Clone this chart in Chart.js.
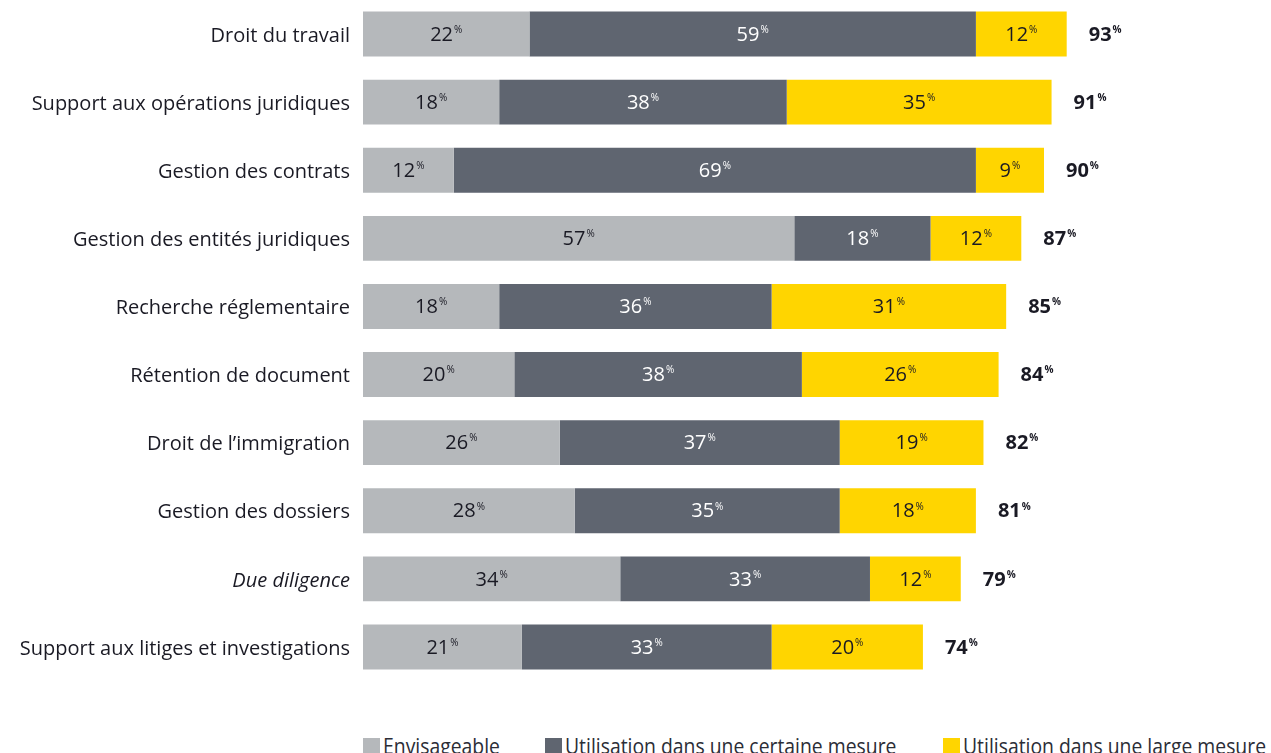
<!DOCTYPE html>
<html>
<head>
<meta charset="utf-8">
<script src="https://cdn.jsdelivr.net/npm/chart.js@4"></script>
<style>
  html, body { margin: 0; padding: 0; background: #fff; overflow: hidden; }
  #wrap { width: 1271px; height: 681px; position: relative; }
  #legend { position: absolute; top: 733px; left: 0; width: 1271px; height: 30px;
            font-family: "Open Sans", "Noto Sans", sans-serif;
            font-size: 22px; color: #2b2d36; }
  #legend .item { position: absolute; top: 0; white-space: nowrap; line-height: 24px; }
  #legend .box { display: inline-block; width: 17px; height: 17px; margin-right: 3px; vertical-align: -1px; }
  #legend .txt { display: inline-block; transform: scaleX(0.88); transform-origin: left center; }
</style>
</head>
<body>
<div id="wrap"><canvas id="usageChart"></canvas></div>
<div id="legend"></div>
<script>
// Data block
const categories = [
    'Droit du travail',
    'Support aux opérations juridiques',
    'Gestion des contrats',
    'Gestion des entités juridiques',
    'Recherche réglementaire',
    'Rétention de document',
    'Droit de l\u2019immigration',
    'Gestion des dossiers',
    'Due diligence',
    'Support aux litiges et investigations'
];
const italicCategories = ['Due diligence'];
const seriesNames = [
    'Envisageable',
    'Utilisation dans une certaine mesure',
    'Utilisation dans une large mesure'
];
const envisageable = [22, 18, 12, 57, 18, 20, 26, 28, 34, 21];
const certaineMesure = [59, 38, 69, 18, 36, 38, 37, 35, 33, 33];
const largeMesure = [12, 35, 9, 12, 31, 26, 19, 18, 12, 20];
const totals = [93, 91, 90, 87, 85, 84, 82, 81, 79, 74];

const FONT = '"Open Sans", "Noto Sans", sans-serif';
const TEXT = '#1a1a24';
const COLORS = ['#b5b8bb', '#5f6570', '#ffd500'];

// Value labels with a small superscript % sign
const valueLabels = {
    id: 'valueLabels',
    afterDatasetsDraw(chart) {
        const ctx = chart.ctx;
        const drawPct = (value, x, y, color, bold, align) => {
            const main = String(value);
            const weight = bold ? 'bold ' : '';
            ctx.font = weight + '20px ' + FONT;
            const w1 = ctx.measureText(main).width;
            ctx.font = weight + '10px ' + FONT;
            const w2 = ctx.measureText('%').width;
            const start = align === 'center' ? x - (w1 + w2 + 1) / 2 : x;
            ctx.fillStyle = color;
            ctx.textBaseline = 'middle';
            ctx.textAlign = 'left';
            ctx.font = weight + '20px ' + FONT;
            ctx.fillText(main, start, y + 1);
            ctx.font = weight + '10px ' + FONT;
            ctx.fillText('%', start + w1 + 1, y - 4);
        };
        ctx.save();
        chart.data.datasets.forEach((ds, i) => {
            const meta = chart.getDatasetMeta(i);
            meta.data.forEach((bar, j) => {
                const cx = (bar.x + bar.base) / 2;
                drawPct(ds.data[j], cx, bar.y, ds.labelColor, false, 'center');
            });
        });
        // totals at the end of each bar
        const last = chart.getDatasetMeta(chart.data.datasets.length - 1);
        last.data.forEach((bar, j) => {
            drawPct(totals[j], bar.x + 22, bar.y, TEXT, true, 'left');
        });
        ctx.restore();
    }
};

// Config block
const usageConfig = {
    type: 'bar',
    data: {
        labels: categories,
        datasets: [{
            label: seriesNames[0],
            data: envisageable,
            backgroundColor: COLORS[0],
            labelColor: TEXT
        }, {
            label: seriesNames[1],
            data: certaineMesure,
            backgroundColor: COLORS[1],
            labelColor: '#ffffff'
        }, {
            label: seriesNames[2],
            data: largeMesure,
            backgroundColor: COLORS[2],
            labelColor: TEXT
        }]
    },
    options: {
        indexAxis: 'y',
        responsive: true,
        maintainAspectRatio: false,
        animation: false,
        datasets: {
            bar: {
                categoryPercentage: 1,
                barPercentage: 0.66,
                borderWidth: 0
            }
        },
        layout: { padding: 0 },
        plugins: {
            legend: { display: false },  // drawn as html below
            tooltip: { enabled: false }
        },
        scales: {
            x: {
                stacked: true,
                display: false,
                min: 0,
                max: 120
            },
            y: {
                stacked: true,
                grid: { display: false, drawTicks: false },
                border: { display: false },
                afterFit: scale => {
                    scale.width = 363;
                    scale.paddingTop = 0;
                    scale.paddingBottom = 0;
                },
                ticks: {
                    padding: 13,
                    labelOffset: 2,
                    color: TEXT,
                    font: c => ({
                        family: FONT,
                        size: 20,
                        style: italicCategories.includes(categories[c.index]) ? 'italic' : 'normal'
                    })
                }
            }
        }
    },
    plugins: [valueLabels]
};

// render block
const usageChart = new Chart(document.getElementById('usageChart'), usageConfig);

// html legend
const legendLefts = [363, 545, 943];
const legendEl = document.getElementById('legend');
usageConfig.data.datasets.forEach((ds, i) => {
    const item = document.createElement('div');
    item.className = 'item';
    item.style.left = legendLefts[i] + 'px';
    item.innerHTML = '<span class="box" style="background:' + ds.backgroundColor + '"></span>' +
        '<span class="txt">' + ds.label + '</span>';
    legendEl.appendChild(item);
});
</script>
</body>
</html>
